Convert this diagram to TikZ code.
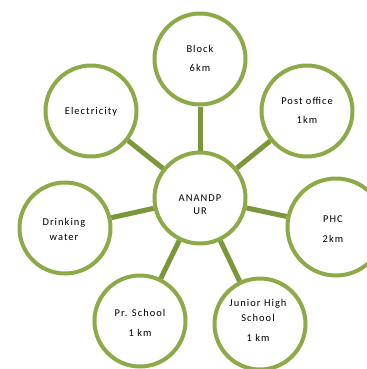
\documentclass[tikz,border=0pt]{standalone}
\usepackage{fontspec}
\setmainfont{Carlito}[LetterSpace=10]
\definecolor{ringgreen}{RGB}{141,170,72}
\definecolor{spokegreen}{RGB}{122,151,58}
\begin{document}
\begin{tikzpicture}[x=1bp,y=-1bp,
  ring/.style={circle, draw=ringgreen, line width=4bp, fill=white,
               minimum size=91bp, inner sep=0pt},
  spoke/.style={draw=spokegreen, line width=5bp},
  txt/.style={font=\fontsize{10.5}{19}\selectfont, align=center, inner sep=0pt}]
\useasboundingbox (0,0) rectangle (367,369);

% circles
\node[ring] (block) at (200,59)  {};
\node[ring] (elec)  at (91,111)  {};
\node[ring] (post)  at (307,111) {};
\node[ring] (hub)   at (200,198) {};
\node[ring] (drink) at (65,228)  {};
\node[ring, minimum size=97bp] (phc) at (336,227) {};
\node[ring] (pr)    at (140,321) {};
\node[ring] (jr)    at (260,324) {};

% spokes from the village to each facility
\foreach \n in {block,elec,post,drink,phc,pr,jr}
  \draw[spoke] (hub) -- (\n);

% labels
\node[txt] (block-t) at (200,58)  {Block\\6km};
\node[txt] (elec-t)  at (91,112)  {Electricity};
\node[txt] (post-t)  at (307,110) {Post office\\1km};
\node[txt, font=\fontsize{10.5}{13}\selectfont] (hub-t) at (200,205) {ANANDP\\UR};
\node[txt, font=\fontsize{10.5}{15}\selectfont] (drink-t) at (64,229) {Drinking\\water};
\node[txt, font=\fontsize{10.5}{20}\selectfont] (phc-t) at (333,229) {PHC\\2km};
\node[txt, font=\fontsize{10.5}{20}\selectfont] (pr-t) at (140,323) {Pr. School\\1 km};
\node[txt, font=\fontsize{10.5}{15}\selectfont] (jr-t) at (258,320) {Junior High\\School\\[5bp]1 km};
\end{tikzpicture}
\end{document}
